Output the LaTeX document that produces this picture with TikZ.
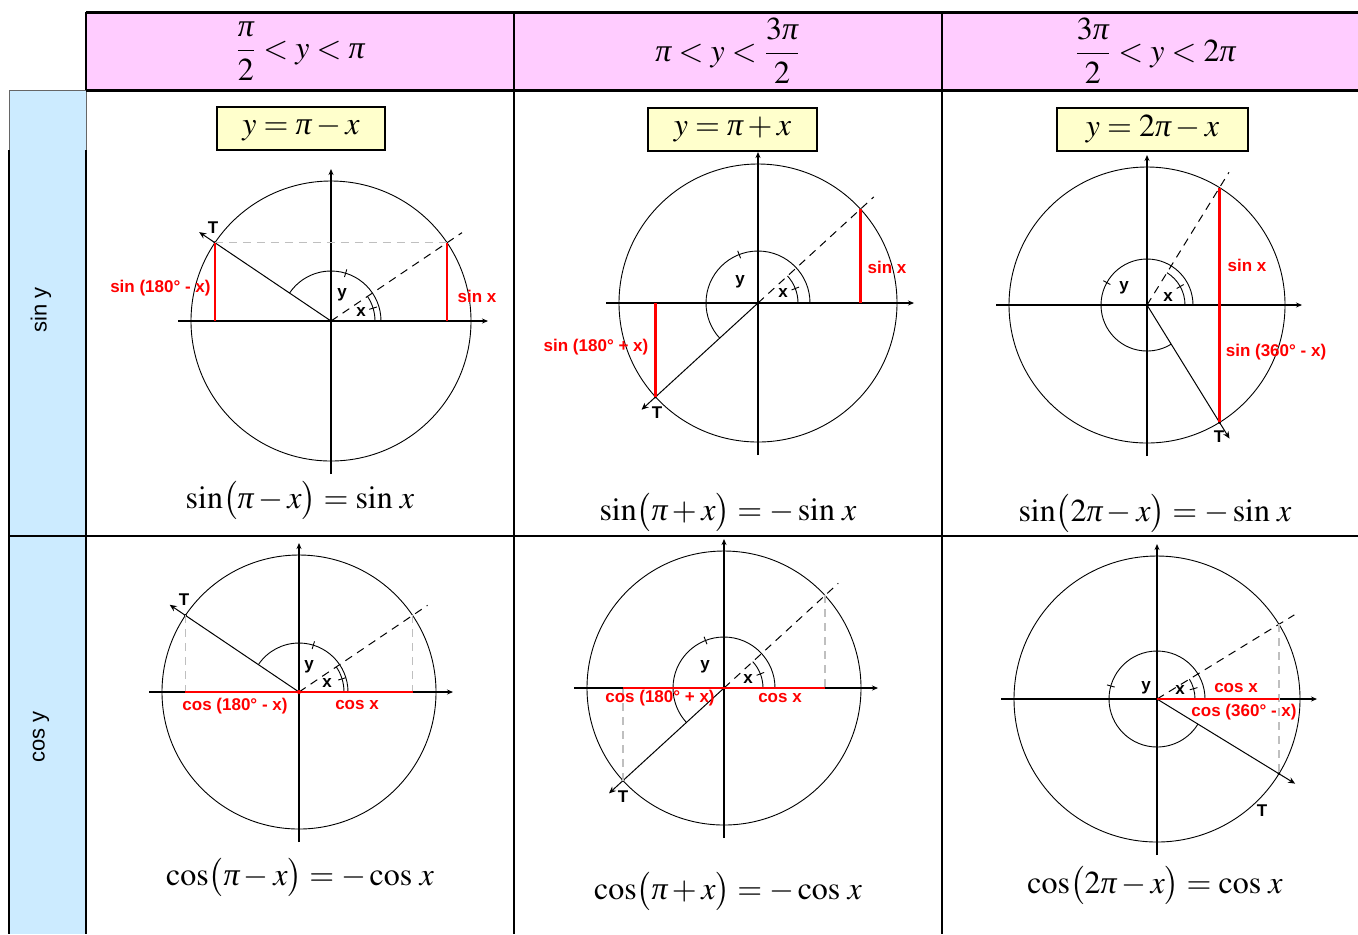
\documentclass[tikz,border=0pt]{standalone}
\usepackage{amsmath}
\usepackage{mathptmx}
\usepackage[no-math]{fontspec}
\newfontfamily\lblfont{Liberation Sans}
\newfontfamily\libserif{Liberation Serif}
\newcommand{\ipi}{\text{\libserif\itshape π}}
\usetikzlibrary{arrows.meta,calc}
\definecolor{headpink}{HTML}{FFCCFF}
\definecolor{sidecyan}{HTML}{CCEBFF}
\definecolor{boxyellow}{HTML}{FFFFCC}
\tikzset{
  cellrule/.style={line width=1pt},
  headrule/.style={line width=1.5pt},
  axisline/.style={line width=0.6pt,-{Stealth[length=3pt,width=2.5pt]}},
  unitring/.style={line width=0.45pt},
  termray/.style={line width=0.5pt,-{Stealth[length=3.5pt,width=3pt]}},
  angray/.style={line width=0.5pt,dash pattern=on 4pt off 3pt},
  guide/.style={black!25,line width=0.6pt,dash pattern=on 4pt off 3pt},
  sinline/.style={red,line width=1.1pt},
  redlbl/.style={text=red,font=\lblfont\bfseries\fontsize{8.5}{10}\selectfont,inner sep=0pt},
  ptlbl/.style={font=\lblfont\bfseries\fontsize{8.5}{10}\selectfont,inner sep=0pt},
  eqbox/.style={draw,line width=1pt,fill=boxyellow,minimum height=21.5pt,inner sep=0pt,font=\fontsize{16}{19}\selectfont},
  formula/.style={font=\fontsize{16}{19}\selectfont,inner sep=0pt},
}
% #1 name, (#2,#3) centre, #4 radius, #5 angle x, #6 angle of T, #7 y arc, #8 x arc
\newcommand{\trigcell}[8]{%
  \begin{scope}[shift={(#2,#3)}]
    \coordinate (#1O) at (0,0);
    \coordinate (#1X) at (#5:#4);
    \coordinate (#1T) at (#6:#4);
    \draw[unitring] (#1O) circle (#4);
    \draw[axisline] ({-#4-13},0) -- ({#4+17},0);
    \draw[axisline] (0,{-#4-13}) -- (0,{#4+12});
    \draw[angray] (#1O) -- (#5:{#4+18});
    \draw[termray] (#1O) -- (#6:{#4+19});
    \draw[unitring] (#7,0) arc[start angle=0,end angle=#6,radius=#7];
    \draw[unitring] (#8,0) arc[start angle=0,end angle=#5,radius=#8];
    \draw[unitring] ({#6/2}:{#7-4}) -- ({#6/2}:{#7+4});
    \draw[unitring] ({#5/2}:{#8-4}) -- ({#5/2}:{#8+4});
    \fill (#1T) circle (1.5);
  \end{scope}}

\begin{document}
\begin{tikzpicture}[x=0.5pt,y=0.5pt]
  \useasboundingbox (0,0) rectangle (1358,-934);
  % table
  \fill[headpink] (86,-12) rectangle (1358,-90);
  \fill[sidecyan] (9,-90) rectangle (86,-934);
  \draw[black!60,line width=0.4pt] (9,-150) -- (9,-90) -- (86,-90) -- (86,-150);
  \draw[headrule] (86,-12) -- (1358,-12);
  \draw[headrule] (86,-90) -- (1358,-90);
  \draw[cellrule] (9,-536) -- (1358,-536);
  \draw[cellrule] (86,-12) -- (86,-90);
  \draw[cellrule] (86,-150) -- (86,-934);
  \draw[cellrule] (9,-150) -- (9,-934);
  \foreach \cx in {514,942}{\draw[cellrule] (\cx,-12) -- (\cx,-934);}

  \node[formula] (hdra) at (300,-51) {$\dfrac{\ipi}{2}<y<\ipi$};
  \node[formula] (hdrb) at (728,-51) {$\ipi<y<\dfrac{3\ipi}{2}$};
  \node[formula] (hdrc) at (1155,-51) {$\dfrac{3\ipi}{2}<y<2\ipi$};
  \node[rotate=90,font=\lblfont\fontsize{11}{13}\selectfont] (rowsin) at (41,-310) {sin y};
  \node[rotate=90,font=\lblfont\fontsize{11}{13}\selectfont] (rowcos) at (41,-737) {cos y};

  \node[eqbox,minimum width=84pt] (boxa) at (301,-128.5) {$y=\ipi-x$};
  \node[eqbox,minimum width=84.5pt] (boxb) at (732.5,-129.5) {$y=\ipi+x$};
  \node[eqbox,minimum width=95.5pt] (boxc) at (1152.5,-129.5) {$y=2\ipi-x$};

  % sine row
  \trigcell{sa}{331}{-321}{140}{34}{146}{50}{44}
  \draw[guide] (saT) -- (saX);
  \draw[sinline] (saX) -- (saX |- saO);
  \draw[sinline] (saT) -- (saT |- saO);
  \node[ptlbl] (saTl) at (213,-228) {T};
  \node[ptlbl] (saYl) at (342,-295) {y};
  \node[ptlbl] (saXl) at (361,-312) {x};
  \node[redlbl,anchor=east] (saS2) at (211,-288) {sin (180° - x)};
  \node[redlbl] (saS1) at (477,-296) {sin x};
  \node[formula] (saEq) at (300,-500) {$\sin\bigl(\ipi-x\bigr)=\sin\,x$};

  \trigcell{sb}{758}{-303}{139}{42.5}{222.5}{52}{40}
  \draw[sinline] (sbX) -- (sbX |- sbO);
  \draw[sinline] (sbT) -- (sbT |- sbO);
  \node[ptlbl] (sbTl) at (657,-413) {T};
  \node[ptlbl] (sbYl) at (740,-282) {y};
  \node[ptlbl] (sbXl) at (783,-293) {x};
  \node[redlbl] (sbS1) at (887,-267) {sin x};
  \node[redlbl] (sbS2) at (596,-347) {sin (180° + x)};
  \node[formula] (sbEq) at (728,-512) {$\sin\bigl(\ipi+x\bigr)=-\sin\,x$};

  \trigcell{sc}{1147}{-305}{138}{58.3}{301.7}{46}{38}
  \draw[sinline] (scX) -- (scT);
  \node[ptlbl] (scTl) at (1219,-437) {T};
  \node[ptlbl] (scYl) at (1124,-288) {y};
  \node[ptlbl] (scXl) at (1168,-297) {x};
  \node[redlbl] (scS1) at (1247,-265) {sin x};
  \node[redlbl] (scS2) at (1276,-352) {sin (360° - x)};
  \node[formula] (scEq) at (1155,-513) {$\sin\bigl(2\ipi-x\bigr)=-\sin\,x$};

  % cosine row
  \trigcell{ca}{299}{-692}{137}{34}{146}{49}{45}
  \draw[guide] (caX) -- (caX |- caO);
  \draw[guide] (caT) -- (caT |- caO);
  \draw[sinline] (caT |- caO) -- (caX |- caO);
  \fill[red] (caO) circle (2);
  \node[ptlbl] (caTl) at (184,-600) {T};
  \node[ptlbl] (caYl) at (309,-667) {y};
  \node[ptlbl] (caXl) at (327,-683) {x};
  \node[redlbl] (caC2) at (235,-706) {cos (180° - x)};
  \node[redlbl] (caC1) at (357,-705) {cos x};
  \node[formula] (caEq) at (300,-877) {$\cos\bigl(\ipi-x\bigr)=-\cos\,x$};

  \trigcell{cb}{724}{-688}{137}{42.5}{222.5}{51}{39}
  \draw[guide] (cbX) -- (cbX |- cbO);
  \draw[guide] (cbT) -- (cbT |- cbO);
  \draw[sinline] (cbT |- cbO) -- (cbX |- cbO);
  \node[ptlbl] (cbTl) at (623,-797) {T};
  \node[ptlbl] (cbYl) at (705,-667) {y};
  \node[ptlbl] (cbXl) at (748,-679) {x};
  \node[redlbl] (cbC2) at (660,-698) {cos (180° + x)};
  \node[redlbl] (cbC1) at (780,-698) {cos x};
  \node[formula] (cbEq) at (728,-891) {$\cos\bigl(\ipi+x\bigr)=-\cos\,x$};

  \trigcell{cc}{1157}{-699}{143}{31.5}{328.5}{48}{38}
  \draw[guide] (ccX) -- (ccT);
  \draw[sinline] (ccO) -- (ccX |- ccO);
  \node[ptlbl] (ccTl) at (1262,-811) {T};
  \node[ptlbl] (ccYl) at (1146,-688) {y};
  \node[ptlbl] (ccXl) at (1180,-690) {x};
  \node[redlbl] (ccC1) at (1236,-688) {cos x};
  \node[redlbl] (ccC2) at (1244,-712) {cos (360° - x)};
  \node[formula] (ccEq) at (1155,-885) {$\cos\bigl(2\ipi-x\bigr)=\cos\,x$};
\end{tikzpicture}
\end{document}
